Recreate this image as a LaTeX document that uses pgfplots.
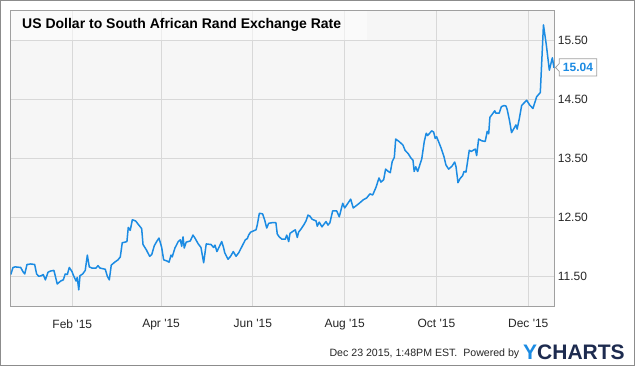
\documentclass[border=0pt]{standalone}
\usepackage{fontspec}
\setmainfont{Liberation Sans}
\usepackage{pgfplots}
\pgfplotsset{compat=1.18}
\definecolor{linec}{HTML}{1B8BE3}
\definecolor{plotbg}{HTML}{F6F6F6}
\definecolor{gridc}{HTML}{D8D8D8}
\definecolor{borderc}{HTML}{A0A0A0}
\definecolor{outerc}{HTML}{8C8C8C}
\definecolor{navy}{HTML}{1D2B4F}
\begin{document}
\begin{tikzpicture}[x=1pt,y=1pt]
\path[use as bounding box] (0,0) rectangle (635,366);
\fill[white] (0,0) rectangle (635,366);
\draw[outerc, line width=1pt] (0.5,0.5) rectangle (634.5,365.5);
\begin{axis}[
  at={(10.7pt,60pt)}, anchor=south west, scale only axis,
  width=543.6pt, height=295.3pt,
  xmin=-9.93, xmax=351.3, ymin=10.996, ymax=16.01,
  axis background/.style={fill=plotbg},
  axis line style={draw=borderc, line width=0.9pt},
  grid=major, major grid style={draw=gridc, line width=0.8pt},
  xtick={31,90,151,212,273,334},
  xticklabels={Feb \textquotesingle15, Apr \textquotesingle15, Jun \textquotesingle15, Aug \textquotesingle15, Oct \textquotesingle15, Dec \textquotesingle15},
  ytick={11.5,12.5,13.5,14.5,15.5},
  yticklabel pos=right,
  y tick label style={/pgf/number format/.cd, fixed, fixed zerofill, precision=2, /tikz/.cd},
  /pgf/number format/assume math mode=true,
  major tick length=0pt, tick style={draw=none},
  ticklabel style={font=\fontsize{12}{14}\selectfont, text=black!85},
  x tick label style={yshift=-10pt},
  clip=true,
]
\addplot[linec, line width=1.5pt, line join=round] table {
x y
-9.9 11.53
-8.4 11.65
-6.9 11.66
-3.3 11.65
-1.8 11.58
-0.6 11.54
0.9 11.70
3.4 11.71
6.0 11.70
7.3 11.54
8.7 11.50
10.4 11.51
11.7 11.53
13.1 11.44
14.9 11.57
16.6 11.59
18.8 11.60
21.0 11.37
23.3 11.42
25.0 11.44
26.3 11.54
27.7 11.53
29.0 11.65
30.8 11.58
31.7 11.52
32.6 11.47
33.5 11.42
34.3 11.48
35.3 11.27
36.1 11.51
37.9 11.54
39.6 11.60
41.0 11.86
42.3 11.66
44.1 11.64
46.7 11.64
48.1 11.68
49.4 11.64
52.9 11.62
54.3 11.50
55.6 11.44
56.9 11.69
59.2 11.74
61.4 11.78
62.9 11.83
64.2 12.07
66.0 12.08
67.3 12.09
68.2 12.33
69.5 12.28
70.9 12.46
73.1 12.44
74.9 12.38
77.1 12.31
78.0 12.04
80.2 11.95
82.4 11.84
83.8 11.87
85.5 12.02
87.3 12.10
88.6 12.15
89.5 12.07
90.4 11.99
91.7 11.78
93.9 11.76
95.3 11.74
96.6 11.86
97.4 11.83
99.2 11.98
101.4 12.09
102.8 12.12
103.7 12.01
104.6 12.17
105.4 11.98
106.7 12.08
109.4 12.10
111.2 12.20
112.5 12.15
114.7 12.05
116.5 11.99
118.3 11.73
120.0 12.05
123.2 12.04
124.9 11.99
125.8 12.03
127.1 11.92
130.3 12.09
131.6 11.98
132.3 11.90
134.5 11.79
136.2 11.84
138.0 11.92
139.8 11.84
141.6 11.90
143.8 12.01
146.0 12.12
147.3 12.14
148.2 12.20
149.5 12.25
151.3 12.27
153.1 12.29
153.9 12.37
155.3 12.57
157.5 12.56
158.8 12.46
160.2 12.32
161.5 12.40
163.7 12.41
166.3 12.41
167.2 12.22
168.5 12.17
170.3 12.13
172.5 12.13
173.5 12.20
174.8 12.09
175.7 12.23
177.4 12.26
179.2 12.29
180.5 12.16
181.4 12.25
183.2 12.31
185.0 12.38
186.3 12.44
187.6 12.54
189.0 12.52
190.3 12.47
193.0 12.44
193.8 12.35
195.1 12.42
196.9 12.34
199.6 12.43
200.9 12.37
202.2 12.41
204.0 12.61
206.7 12.61
208.4 12.51
210.7 12.74
212.0 12.66
216.0 12.81
217.7 12.66
221.7 12.74
224.4 12.80
226.6 12.83
228.8 12.90
230.6 12.88
232.8 13.01
234.8 13.17
236.1 13.10
237.9 13.14
239.2 13.32
241.0 13.28
242.3 13.26
243.6 13.45
245.0 13.52
245.9 13.83
248.1 13.79
250.7 13.73
252.1 13.64
254.3 13.58
256.0 13.51
257.4 13.47
258.2 13.28
259.2 13.36
260.5 13.28
263.2 13.49
264.9 13.79
266.2 13.93
267.1 13.89
268.5 13.93
269.8 13.97
271.1 13.95
272.2 13.84
273.1 13.87
274.5 13.78
276.2 13.67
278.0 13.53
279.3 13.39
281.1 13.32
283.3 13.37
285.1 13.44
286.0 13.36
287.3 13.09
288.7 13.16
290.4 13.21
291.3 13.28
292.6 13.27
293.5 13.42
294.8 13.64
296.1 13.62
297.4 13.64
298.8 13.66
299.7 13.55
301.0 13.83
303.2 13.80
305.4 13.79
306.7 13.96
307.7 13.92
308.5 14.20
310.3 14.26
311.7 14.31
312.5 14.27
314.7 14.27
316.1 14.38
317.9 14.40
319.2 14.39
320.0 14.33
321.5 14.15
322.9 13.94
325.8 14.07
326.6 14.00
328.0 14.17
329.6 14.40
332.9 14.49
334.9 14.41
337.1 14.35
339.6 14.55
342.0 14.62
344.1 15.77
346.0 15.43
348.0 15.00
350.0 15.21
351.1 15.04
};
\end{axis}
% title box
\fill[white, opacity=0.55] (11.2,325.8) rectangle (367,355.3);
\node[anchor=base west, inner sep=0pt, font=\fontsize{14}{16}\selectfont\bfseries] at (22,337.5) {US Dollar to South African Rand Exchange Rate};
% last value callout
\draw[borderc, fill=white, line width=0.8pt] (555.5,298.5) -- (559.3,302.5) -- (559.3,307.3) -- (596.7,307.3) -- (596.7,290) -- (559.3,290) -- (559.3,294.5) -- cycle;
\node[anchor=center, inner sep=0pt, text=linec, font=\fontsize{12}{14}\selectfont\bfseries] at (578,298.6) {15.04};
% footer
\node[anchor=base east, inner sep=0pt, font=\fontsize{10.6}{13}\selectfont, text=black!85] at (519.5,9) {Dec 23 2015, 1:48PM EST.\ \ Powered by};
\node[anchor=base west, inner sep=0pt, font=\fontsize{21}{24}\selectfont\bfseries] at (523,6) {\textcolor{linec}{Y}\textcolor{navy}{CHARTS}};
\end{tikzpicture}
\end{document}
